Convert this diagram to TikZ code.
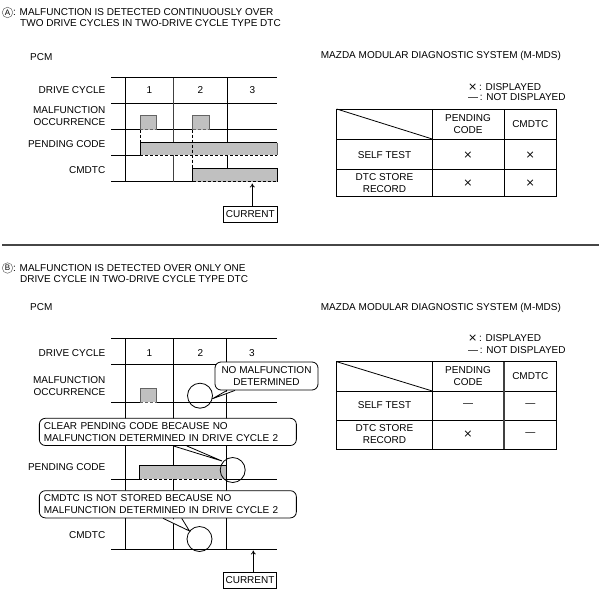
\documentclass[tikz,border=0pt]{standalone}
\usepackage{fontspec}
\setmainfont{Liberation Sans}
\newfontfamily\symfont{DejaVu Sans}
\usetikzlibrary{arrows.meta}
\definecolor{barfill}{RGB}{192,192,192}
\definecolor{pulseline}{RGB}{100,100,100}
\definecolor{sepline}{RGB}{70,70,70}
\begin{document}
\begin{tikzpicture}[x=1pt,y=-1pt,
  txt/.style={font=\fontsize{10}{12}\selectfont, inner sep=0pt},
  ctxt/.style={txt, align=center},
  rtxt/.style={txt, align=right, anchor=east},
  xmark/.style={inner sep=0pt, font=\symfont\fontsize{11}{12}\selectfont},
  ln/.style={line width=0.8pt},
  midln/.style={line width=1.1pt, draw=black!75},
  dsh/.style={line width=0.8pt, dash pattern=on 3pt off 2pt},
  letter/.style={circle, draw=black!60, line width=0.5pt, inner sep=0pt, minimum size=10.5pt, font=\fontsize{8}{8}\selectfont},
  boxnode/.style={draw, ln, inner sep=0pt, minimum width=53.4pt, minimum height=16pt, font=\fontsize{10}{12}\selectfont},
  callout/.style={draw, ln, fill=white, rounded corners=6pt, inner xsep=4.5pt, inner ysep=0pt, align=left, font=\fontsize{10}{12.5}\selectfont},
  ring/.style={draw, ln, circle, inner sep=0pt, minimum size=25pt},
  arr/.style={ln, -{To[length=4pt,width=5pt]}}
]
\useasboundingbox (0,0) rectangle (599,594);

% ================= SECTION A =================
\node[letter] (la) at (7.5,12.5) {A};
\node[txt, anchor=west] (ta1) at (13,12.5) {: MALFUNCTION IS DETECTED CONTINUOUSLY OVER};
\node[txt, anchor=west] (ta2) at (20,23.5) {TWO DRIVE CYCLES IN TWO-DRIVE CYCLE TYPE DTC};
\node[txt, anchor=west] (pcmA) at (30,57) {PCM};

% grid lines
\draw[ln] (111,77.5) -- (277,77.5);
\draw[ln] (111,103.5) -- (277,103.5);
\draw[ln] (111,129.5) -- (140,129.5);
\draw[ln] (156.7,129.5) -- (192.7,129.5);
\draw[ln] (209,129.5) -- (277,129.5);
\draw[ln] (111,155.3) -- (140,155.3);
\draw[ln] (111,181.7) -- (192.7,181.7);
\draw[ln] (125.3,77.5) -- (125.3,181.7);
\draw[midln] (173.7,77.5) -- (173.7,181.7);
\draw[ln] (227,77.5) -- (227,168.3);

% pulses
\fill[barfill] (140,115.7) rectangle (156.7,129.5);
\draw[ln, draw=pulseline] (140,129.5) -- (140,115.7) -- (156.7,115.7) -- (156.7,129.5);
\draw[dsh, draw=pulseline] (140,129.5) -- (156.7,129.5);
\fill[barfill] (192.7,115.7) rectangle (209,129.5);
\draw[ln, draw=pulseline] (192.7,129.5) -- (192.7,115.7) -- (209,115.7) -- (209,129.5);
\draw[dsh, draw=pulseline] (192.7,129.5) -- (209,129.5);

% pending code bar
\fill[barfill] (140,142.7) rectangle (277,155.3);
\draw[ln] (140,155.3) -- (140,142.7) -- (277,142.7);
\draw[ln, draw=pulseline] (277,142.7) -- (277,155.3);
\draw[dsh] (140,155.3) -- (277,155.3);

% CMDTC bar
\fill[barfill] (192.7,168.3) rectangle (277,181.7);
\draw[ln] (192.7,181.7) -- (192.7,168.3) -- (277,168.3) -- (277,181.7);
\draw[dsh] (192.7,181.7) -- (277,181.7);

% dashed links
\draw[dsh] (140,129.5) -- (140,142.7);
\draw[dsh] (192.7,129.5) -- (192.7,168.3);

% labels
\node[rtxt] (dcA) at (105.5,90.5) {DRIVE CYCLE};
\node[rtxt] (moA) at (105.5,116) {MALFUNCTION\\OCCURRENCE};
\node[rtxt] (pcA) at (105.5,144.3) {PENDING CODE};
\node[rtxt] (cmA) at (105.5,170) {CMDTC};
\node[txt] (n1A) at (149.5,90.5) {1};
\node[txt] (n2A) at (200.3,90.5) {2};
\node[txt] (n3A) at (252.3,90.5) {3};

% current
\node[boxnode] (curA) at (250.3,214.5) {CURRENT};
\coordinate (tipA) at (252.3,183.5);
\draw[arr] (curA.north -| tipA) -- (tipA);

% table A
\node[txt, anchor=west] (mdsA) at (320.7,56) {MAZDA MODULAR DIAGNOSTIC SYSTEM (M-MDS)};
\node[txt, anchor=west] (legA1) at (468,86.7) {{\symfont\fontsize{11}{12}\selectfont ×}\,: DISPLAYED};
\node[txt, anchor=west] (legA2) at (468,97.5) {—\,: NOT DISPLAYED};
\draw[ln] (336.7,109) rectangle (556.7,196.7);
\draw[ln] (336.7,139) -- (556.7,139);
\draw[ln] (336.7,169) -- (556.7,169);
\draw[ln] (432.3,109) -- (432.3,196.7);
\draw[ln] (504,109) -- (504,196.7);
\draw[ln] (336.7,109) -- (432.3,139);
\node[ctxt] (hpA) at (468,124) {PENDING\\CODE};
\node[ctxt] (hcA) at (530.3,124) {CMDTC};
\node[ctxt] (stA) at (384.5,155) {SELF TEST};
\node[ctxt] (drA) at (384.5,183) {DTC STORE\\RECORD};
\node[xmark] (a11) at (468,155) {×};
\node[xmark] (a12) at (530.3,155) {×};
\node[xmark] (a21) at (468,183) {×};
\node[xmark] (a22) at (530.3,183) {×};

% separator
\draw[line width=1.6pt, draw=sepline] (2,245) -- (599,245);

% ================= SECTION B =================
\node[letter] (lb) at (7.5,268) {B};
\node[txt, anchor=west] (tb1) at (13,268) {: MALFUNCTION IS DETECTED OVER ONLY ONE};
\node[txt, anchor=west] (tb2) at (20,279.5) {DRIVE CYCLE IN TWO-DRIVE CYCLE TYPE DTC};
\node[txt, anchor=west] (pcmB) at (30,307) {PCM};

% grid lines
\draw[ln] (111,338.3) -- (277,338.3);
\draw[ln] (111,364.3) -- (277,364.3);
\draw[ln] (111,402) -- (140,402);
\draw[ln] (156.7,402) -- (277,402);
\draw[ln] (111,479.3) -- (139.3,479.3);
\draw[ln] (226.7,479.3) -- (277,479.3);
\draw[ln] (111,549) -- (277,549);
\draw[ln] (125.3,338.3) -- (125.3,549);
\draw[ln] (173.7,338.3) -- (173.7,549);
\draw[ln] (226.7,338.3) -- (226.7,549);

% pulse
\fill[barfill] (140,388.3) rectangle (156.7,402);
\draw[ln, draw=pulseline] (140,402) -- (140,388.3) -- (156.7,388.3) -- (156.7,402);
\draw[dsh, draw=pulseline] (140,402) -- (156.7,402);

% pending bar
\fill[barfill] (139.3,465.7) rectangle (226.7,479.3);
\draw[ln] (139.3,479.3) -- (139.3,465.7) -- (226.7,465.7) -- (226.7,479.3);
\draw[dsh] (139.3,479.3) -- (226.7,479.3);

% rings
\node[ring] (r1) at (200,395.7) {};
\node[ring] (r2) at (232.7,470) {};
\node[ring] (r3) at (199.5,539) {};

% callouts
\node[callout, minimum width=103pt, minimum height=28pt, align=center] (co1) at (266.5,376) {NO MALFUNCTION\\DETERMINED};
\coordinate (p1a) at (227,376|-co1.south);
\coordinate (p1b) at (235,376|-co1.south);
\coordinate (p1t) at (212.3,398.8);
\fill[white] ([yshift=-1pt]p1a) -- (p1t) -- ([yshift=-1pt]p1b) -- cycle;
\draw[ln] (p1a) -- (p1t) -- (p1b);

\node[callout, text width=248pt, minimum height=27.2pt] (co2) at (167.85,431.9) {CLEAR PENDING CODE BECAUSE NO\\MALFUNCTION DETERMINED IN DRIVE CYCLE 2};
\coordinate (p2a) at (173.3,431.9|-co2.south);
\coordinate (p2b) at (186.7,431.9|-co2.south);
\coordinate (p2t) at (222,461);
\fill[white] ([yshift=-1pt]p2a) -- (p2t) -- ([yshift=-1pt]p2b) -- cycle;
\draw[ln] (p2a) -- (p2t) -- (p2b);

\node[callout, text width=248pt, minimum height=27.2pt] (co3) at (167.85,504.3) {CMDTC IS NOT STORED BECAUSE NO\\MALFUNCTION DETERMINED IN DRIVE CYCLE 2};
\coordinate (p3a) at (163,504.3|-co3.south);
\coordinate (p3b) at (181.7,504.3|-co3.south);
\coordinate (p3t) at (189.5,531);
\fill[white] ([yshift=-1pt]p3a) -- (p3t) -- ([yshift=-1pt]p3b) -- cycle;
\draw[ln] (p3a) -- (p3t) -- (p3b);

% labels
\node[rtxt] (dcB) at (105.5,353.3) {DRIVE CYCLE};
\node[rtxt] (moB) at (105.5,386) {MALFUNCTION\\OCCURRENCE};
\node[rtxt] (pcB) at (105.5,466.7) {PENDING CODE};
\node[rtxt] (cmB) at (105.5,535) {CMDTC};
\node[txt] (n1B) at (149.5,353.3) {1};
\node[txt] (n2B) at (200.3,353.3) {2};
\node[txt] (n3B) at (252,353.3) {3};

% current
\node[boxnode] (curB) at (250,580) {CURRENT};
\coordinate (tipB) at (253.3,550.5);
\draw[arr] (curB.north -| tipB) -- (tipB);

% table B
\node[txt, anchor=west] (mdsB) at (320.7,308.3) {MAZDA MODULAR DIAGNOSTIC SYSTEM (M-MDS)};
\node[txt, anchor=west] (legB1) at (468,338.3) {{\symfont\fontsize{11}{12}\selectfont ×}\,: DISPLAYED};
\node[txt, anchor=west] (legB2) at (468,350) {—\,: NOT DISPLAYED};
\draw[ln] (336.7,361.7) rectangle (556.7,449);
\draw[ln] (336.7,391) -- (556.7,391);
\draw[ln] (336.7,420) -- (556.7,420);
\draw[ln] (432.3,361.7) -- (432.3,449);
\draw[midln] (504,361.7) -- (504,449);
\draw[ln] (336.7,361.7) -- (432.3,391);
\node[ctxt] (hpB) at (468,376.3) {PENDING\\CODE};
\node[ctxt] (hcB) at (530.3,376.3) {CMDTC};
\node[ctxt] (stB) at (384.5,405.5) {SELF TEST};
\node[ctxt] (drB) at (384.5,434.5) {DTC STORE\\RECORD};
\node[ctxt] (b11) at (468,405.5) {—};
\node[ctxt] (b12) at (530.3,405.5) {—};
\node[xmark] (b21) at (468,434.5) {×};
\node[ctxt] (b22) at (530.3,434.5) {—};
\end{tikzpicture}
\end{document}
